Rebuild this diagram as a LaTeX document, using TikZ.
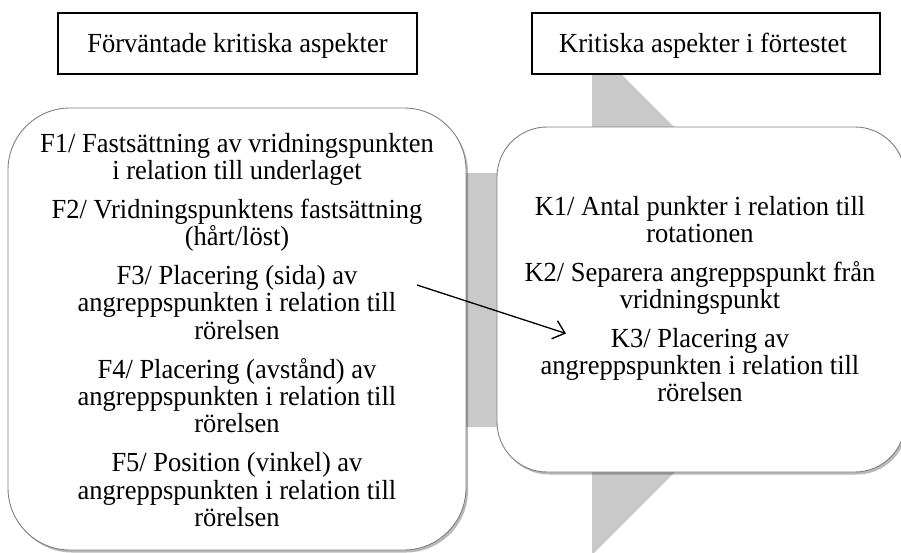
\documentclass[tikz,border=0pt]{standalone}
\usepackage{fontspec}
\setmainfont{Liberation Serif}[FakeStretch=0.96]
\usetikzlibrary{shadows,arrows.meta}
\definecolor{arrowgrey}{RGB}{201,201,201}
\definecolor{edgegrey}{RGB}{128,128,128}
\tikzset{
  headbox/.style={draw=black,line width=1.4pt,fill=white},
  bigbox/.style={draw=edgegrey,line width=0.9pt,fill=white,
    drop shadow={shadow xshift=2pt,shadow yshift=-2.5pt,fill=black,opacity=0.28}},
  txt/.style={anchor=base,inner sep=0pt,font=\fontsize{27.6}{28}\selectfont},
  conn/.style={line width=1.3pt,-{Straight Barb[length=11pt,width=19pt,line width=1.4pt]}}
}
\begin{document}
\begin{tikzpicture}[x=1pt,y=-1pt]
\useasboundingbox (0,0) rectangle (901,552);
% big grey background arrow
\fill[arrowgrey] (150,173) -- (592,173) -- (592,45) -- (847,300) -- (592,555) -- (592,427) -- (150,427) -- cycle;
% header boxes
\draw[headbox] (58,13) rectangle (417,74);
\node[txt] (h1) at (237.5,52) {Förväntade kritiska aspekter};
\draw[headbox] (532,13) rectangle (880,74);
\node[txt] (h2) at (703,52) {Kritiska aspekter i förtestet};
% rounded boxes
\draw[bigbox,rounded corners=62pt] (8,108) rectangle (466,550);
\draw[bigbox,rounded corners=50pt] (497,127) rectangle (905,472);
% left text
\foreach \t/\y [count=\i] in {
  {F1/ Fastsättning av vridningspunkten}/152,
  {i relation till underlaget}/179.3,
  {F2/ Vridningspunktens fastsättning}/218.3,
  {(hårt/löst)}/245.6,
  {F3/ Placering (sida) av}/284.6,
  {angreppspunkten i relation till}/311.9,
  {rörelsen}/339.2,
  {F4/ Placering (avstånd) av}/378.2,
  {angreppspunkten i relation till}/405.5,
  {rörelsen}/432.8,
  {F5/ Position (vinkel) av}/471.8,
  {angreppspunkten i relation till}/499.1,
  {rörelsen}/526.4}
  \node[txt] (L\i) at (237,\y) {\t};
% right text
\foreach \t/\y [count=\i] in {
  {K1/ Antal punkter i relation till}/215.5,
  {rotationen}/242.8,
  {K2/ Separera angreppspunkt från}/281.3,
  {vridningspunkt}/308.6,
  {K3/ Placering av}/347,
  {angreppspunkten i relation till}/374.3,
  {rörelsen}/401.6}
  \node[txt] (R\i) at (700,\y) {\t};
% connector
\coordinate (a1) at (417,285);
\coordinate (a2) at (566,333.5);
\draw[conn] (a1) -- (a2);
\end{tikzpicture}
\end{document}
